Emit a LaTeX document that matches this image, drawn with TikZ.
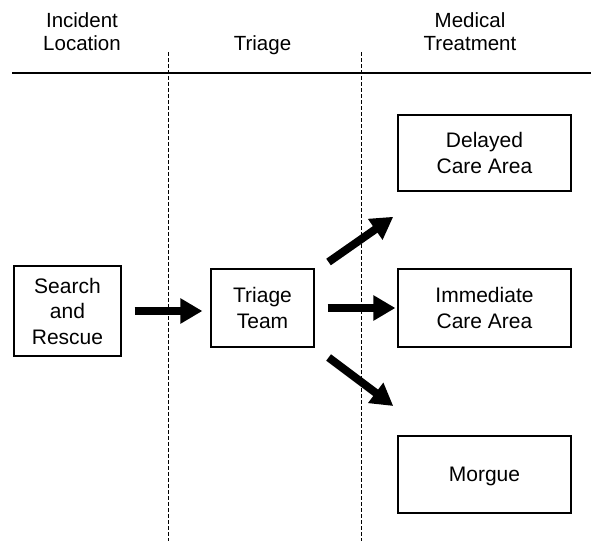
\documentclass[tikz,border=0pt]{standalone}
\usepackage{fontspec}
\setmainfont{Liberation Sans}
\usetikzlibrary{arrows.meta}
\tikzset{
  header/.style={align=center,font=\fontsize{20.5}{23}\selectfont},
  box/.style={draw,line width=1.2pt,align=center,inner sep=0pt,text depth=0pt,font=\fontsize{21}{25.5}\selectfont},
  bigarrow/.style={line width=8pt,-{Triangle[length=22pt,width=24pt]}},
  lane/.style={line width=0.8pt,dash pattern=on 4pt off 2pt}
}
\begin{document}
\begin{tikzpicture}[x=1pt,y=-1pt]
\useasboundingbox (0,0) rectangle (591,541);
\draw[line width=2pt] (12,73)--(591,73);
\draw[lane] (168,52)--(168,541);
\draw[lane] (361,52)--(361,541);
\node[header] (incident) at (82,31.5) {Incident\\Location};
\node[header,anchor=base] (triagehead) at (262.5,50.5) {Triage};
\node[header] (medical) at (470,31.5) {Medical\\Treatment};
\node[box,minimum width=107pt,minimum height=90pt] (search) at (67.5,311) {Search\\and\\Rescue};
\node[box,minimum width=103pt,minimum height=78pt] (triage) at (262.5,308) {Triage\\Team};
\node[box,minimum width=173pt,minimum height=76pt] (delayed) at (484.5,153) {Delayed\\Care Area};
\node[box,minimum width=173pt,minimum height=78pt] (immediate) at (484.5,308) {Immediate\\Care Area};
\node[box,minimum width=173pt,minimum height=77pt] (morgue) at (484.5,474.5) {Morgue};
\draw[bigarrow,shorten <=13pt,shorten >=8pt] (search.east) -- (search.east -| triage.west);
\draw[bigarrow,shorten <=17pt,shorten >=44pt] (triage) -- (delayed);
\draw[bigarrow,shorten <=13pt,shorten >=2pt] (triage.east) -- (immediate.west);
\draw[bigarrow,shorten <=17.5pt,shorten >=49pt] (triage) -- (morgue);
\end{tikzpicture}
\end{document}
